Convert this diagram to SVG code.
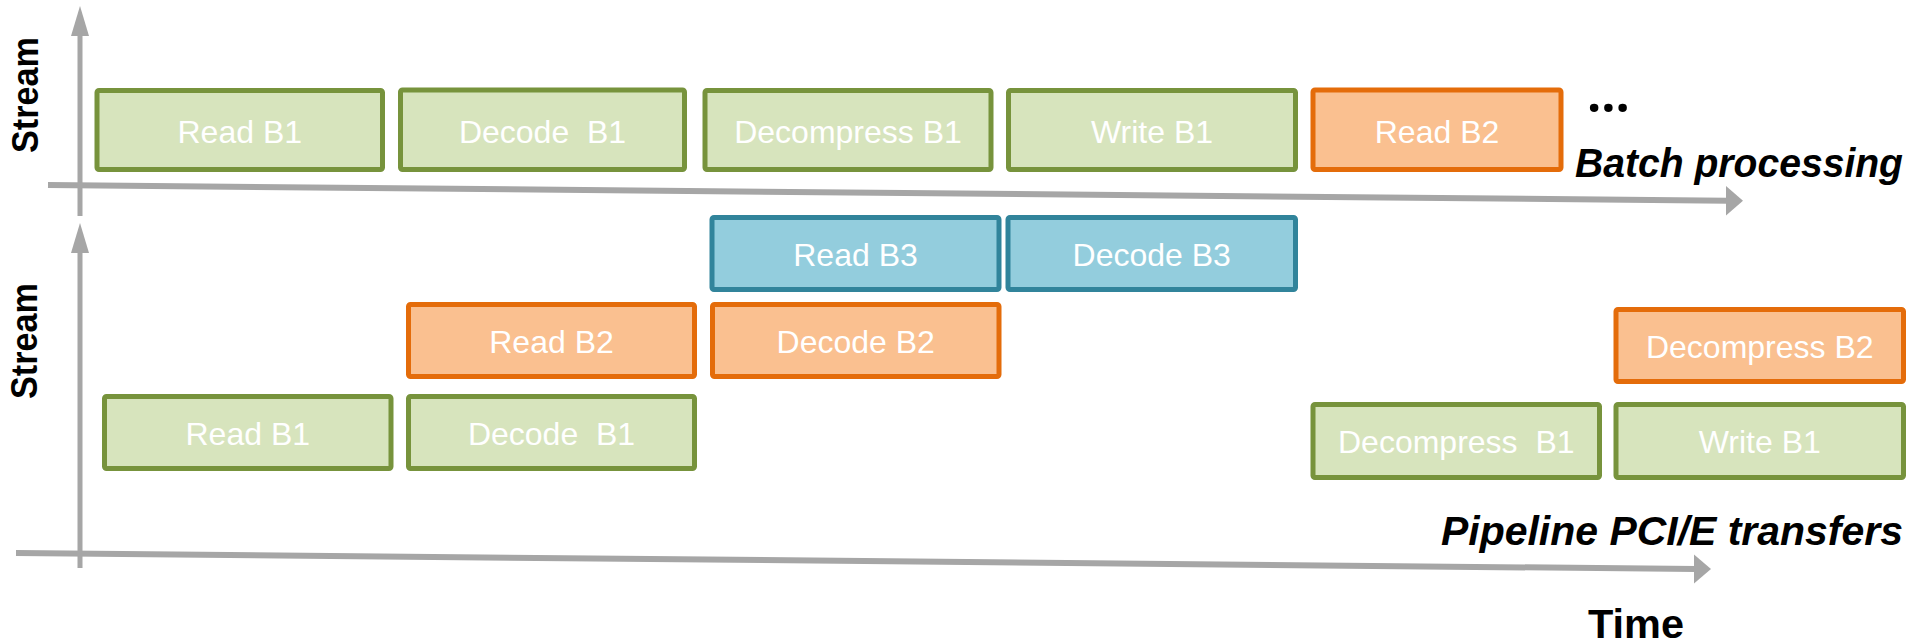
<svg xmlns="http://www.w3.org/2000/svg" width="1917" height="643" viewBox="0 0 1917 643">
  <style>
    .axis { stroke: #A6A6A6; fill: none; }
    .axis-v { stroke-width: 5; }
    .axis-h { stroke-width: 6; }
    .head { fill: #A6A6A6; stroke: none; }
    .box { stroke-width: 5; }
    .b1 { fill: #D7E4BD; stroke: #77933C; }
    .b2 { fill: #FAC090; stroke: #E46C0A; }
    .b3 { fill: #93CDDD; stroke: #31849B; }
    .lbl { font-family: "Liberation Sans", Arial, sans-serif; font-size: 32px; fill: #FFFFFF; text-anchor: middle; white-space: pre; }
    .axis-title { font-family: "Liberation Sans", Arial, sans-serif; font-weight: bold; font-size: 36px; fill: #000000; text-anchor: middle; }
    .caption { font-family: "Liberation Sans", Arial, sans-serif; font-weight: bold; font-style: italic; font-size: 41px; fill: #000000; }
    .plain-bold { font-family: "Liberation Sans", Arial, sans-serif; font-weight: bold; font-size: 40px; fill: #000000; }
    .dots { font-family: "Open Sans", "Liberation Sans", sans-serif; font-weight: bold; font-size: 50px; fill: #000000; }
  </style>

  <!-- axes -->
  <g id="axes">
    <!-- top panel -->
    <line class="axis axis-v" x1="80" y1="33" x2="80" y2="216"/>
    <polygon class="head" points="80,6 71,36 89,36"/>
    <line class="axis axis-h" x1="48" y1="185" x2="1728" y2="200.7"/>
    <polygon class="head" points="1743,200.7 1726,186 1726,215.4"/>
    <!-- bottom panel -->
    <line class="axis axis-v" x1="80" y1="250" x2="80" y2="568"/>
    <polygon class="head" points="80,223 71,253 89,253"/>
    <line class="axis axis-h" x1="16" y1="553" x2="1696" y2="569"/>
    <polygon class="head" points="1711,569 1694,554.5 1694,583.5"/>
  </g>

  <!-- axis titles and captions -->
  <text class="axis-title" transform="translate(38,95) rotate(-90)" textLength="116" lengthAdjust="spacingAndGlyphs">Stream</text>
  <text class="axis-title" transform="translate(37,341) rotate(-90)" textLength="116" lengthAdjust="spacingAndGlyphs">Stream</text>
  <text class="dots" x="1587" y="112">...</text>
  <text class="caption" x="1575" y="177" textLength="328" lengthAdjust="spacingAndGlyphs">Batch processing</text>
  <text class="caption" x="1441" y="545" textLength="462" lengthAdjust="spacingAndGlyphs">Pipeline PCI/E transfers</text>
  <text class="plain-bold" x="1588" y="638" textLength="96" lengthAdjust="spacingAndGlyphs">Time</text>

  <!-- top panel: sequential batch processing -->
  <g id="seq-read-b1">
    <rect class="box b1" x="97" y="90.5" width="285.5" height="79" rx="2"/>
    <text class="lbl" x="239.75" y="142.5">Read B1</text>
  </g>
  <g id="seq-decode-b1">
    <rect class="box b1" x="400.5" y="90" width="284" height="79.5" rx="2"/>
    <text class="lbl" x="542.5" y="142.5">Decode  B1</text>
  </g>
  <g id="seq-decompress-b1">
    <rect class="box b1" x="705" y="90.5" width="286" height="79" rx="2"/>
    <text class="lbl" x="848" y="142.5">Decompress B1</text>
  </g>
  <g id="seq-write-b1">
    <rect class="box b1" x="1008.5" y="90.5" width="287" height="79" rx="2"/>
    <text class="lbl" x="1152" y="142.5">Write B1</text>
  </g>
  <g id="seq-read-b2">
    <rect class="box b2" x="1313" y="90" width="248" height="79.5" rx="2"/>
    <text class="lbl" x="1437" y="142.5">Read B2</text>
  </g>

  <!-- bottom panel: pipelined streams -->
  <g id="pipe-read-b3">
    <rect class="box b3" x="712" y="217.5" width="287" height="72" rx="2"/>
    <text class="lbl" x="855.5" y="265.5">Read B3</text>
  </g>
  <g id="pipe-decode-b3">
    <rect class="box b3" x="1008" y="217.5" width="287.5" height="72" rx="2"/>
    <text class="lbl" x="1151.75" y="265.5">Decode B3</text>
  </g>
  <g id="pipe-read-b2">
    <rect class="box b2" x="408.5" y="304.5" width="286" height="72" rx="2"/>
    <text class="lbl" x="551.5" y="352.5">Read B2</text>
  </g>
  <g id="pipe-decode-b2">
    <rect class="box b2" x="712.5" y="304.5" width="286.5" height="72" rx="2"/>
    <text class="lbl" x="855.75" y="352.5">Decode B2</text>
  </g>
  <g id="pipe-decompress-b2">
    <rect class="box b2" x="1616" y="309.5" width="287.5" height="72" rx="2"/>
    <text class="lbl" x="1759.75" y="357.5">Decompress B2</text>
  </g>
  <g id="pipe-read-b1">
    <rect class="box b1" x="104.5" y="396.5" width="286.5" height="72" rx="2"/>
    <text class="lbl" x="247.75" y="444.5">Read B1</text>
  </g>
  <g id="pipe-decode-b1">
    <rect class="box b1" x="408.5" y="396.5" width="286" height="72" rx="2"/>
    <text class="lbl" x="551.5" y="444.5">Decode  B1</text>
  </g>
  <g id="pipe-decompress-b1">
    <rect class="box b1" x="1313" y="404.5" width="286.5" height="73" rx="2"/>
    <text class="lbl" x="1456.25" y="453">Decompress  B1</text>
  </g>
  <g id="pipe-write-b1">
    <rect class="box b1" x="1616" y="404.5" width="287.5" height="73" rx="2"/>
    <text class="lbl" x="1759.75" y="453">Write B1</text>
  </g>
</svg>
